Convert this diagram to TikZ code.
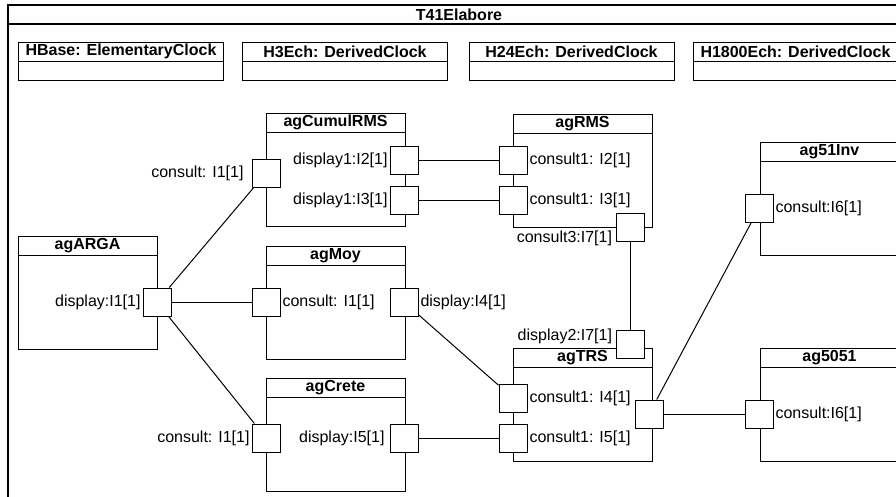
\documentclass[tikz,border=0pt]{standalone}
\usepackage{fontspec}
\setmainfont{Liberation Sans}

\begin{document}
\begin{tikzpicture}[x=1pt,y=-1pt,line width=1pt,font=\fontsize{16}{19}\selectfont,
    pbox/.style={draw,minimum width=139pt,minimum height=113pt,inner sep=0pt},
    hbox/.style={draw,fill=white,minimum width=139pt,minimum height=19pt,inner sep=0pt,anchor=north,font=\fontsize{16}{19}\selectfont\bfseries},
    cbox/.style={draw,minimum width=205pt,minimum height=19pt,inner sep=0pt,font=\fontsize{16}{19}\selectfont\bfseries},
    pnode/.style={draw,fill=white,minimum size=28pt,inner sep=0pt},
    lbl/.style={inner sep=1.5pt}]
    \useasboundingbox (0,0) rectangle (896,496);
    \clip (0,0) rectangle (896,496);
    \draw[line width=1.4pt] (8,5) rectangle (910,505);
    \draw[line width=1.4pt] (8,24) -- (910,24);
    \node[font=\fontsize{16}{19}\selectfont\bfseries] (title) at (459,14.5) {T41Elabore};

    \node[cbox] (hbaseH) at (121,51.5) {HBase: ElementaryClock};
    \node[cbox] (hbaseB) at (121,70.5) {};
    \node[cbox] (h3H) at (345,51.5) {H3Ech: DerivedClock};
    \node[cbox] (h3B) at (345,70.5) {};
    \node[cbox] (h24H) at (571.5,51.5) {H24Ech: DerivedClock};
    \node[cbox] (h24B) at (571.5,70.5) {};
    \node[cbox] (h1800H) at (795.5,51.5) {H1800Ech: DerivedClock};
    \node[cbox] (h1800B) at (795.5,70.5) {};

    \node[pbox] (argaB) at (87.5,292.5) {};
    \node[hbox] (argaH) at (argaB.north) {agARGA};
    \node[pbox] (cumulB) at (335.5,169.5) {};
    \node[hbox] (cumulH) at (cumulB.north) {agCumulRMS};
    \node[pbox] (moyB) at (335.5,302.5) {};
    \node[hbox] (moyH) at (moyB.north) {agMoy};
    \node[pbox] (creteB) at (335.5,434.5) {};
    \node[hbox] (creteH) at (creteB.north) {agCrete};
    \node[pbox] (rmsB) at (582.5,171) {};
    \node[hbox] (rmsH) at (rmsB.north) {agRMS};
    \node[pbox] (trsB) at (582.5,404.5) {};
    \node[hbox] (trsH) at (trsB.north) {agTRS};
    \node[pbox] (invB) at (829.5,199) {};
    \node[hbox] (invH) at (invB.north) {ag51Inv};
    \node[pbox] (mixB) at (829.5,404.5) {};
    \node[hbox] (mixH) at (mixB.north) {ag5051};

    \node[pnode] (argaP) at (157,302) {};
    \node[lbl,anchor=east] (argaL) at (argaP.west) {display:I1[1]};
    \node[pnode] (cumulP) at (266,173) {};
    \node[lbl,anchor=east] (cumulL) at ([xshift=-6pt]cumulP.west) {consult: I1[1]};
    \node[pnode] (cumulP2) at (404,160) {};
    \node[lbl,anchor=east] (cumulL2) at (cumulP2.west) {display1:I2[1]};
    \node[pnode] (cumulP3) at (404,200) {};
    \node[lbl,anchor=east] (cumulL3) at (cumulP3.west) {display1:I3[1]};
    \node[pnode] (moyP) at (266,302) {};
    \node[lbl,anchor=west] (moyL) at (moyP.east) {consult: I1[1]};
    \node[pnode] (moyP4) at (404,302) {};
    \node[lbl,anchor=west] (moyL4) at (moyP4.east) {display:I4[1]};
    \node[pnode] (creteP) at (266,438) {};
    \node[lbl,anchor=east] (creteL) at (creteP.west) {consult: I1[1]};
    \node[pnode] (creteP5) at (404,438) {};
    \node[lbl,anchor=east] (creteL5) at ([xshift=-3pt]creteP5.west) {display:I5[1]};
    \node[pnode] (rmsP2) at (513,160) {};
    \node[lbl,anchor=west] (rmsL2) at (rmsP2.east) {consult1: I2[1]};
    \node[pnode] (rmsP3) at (513,200) {};
    \node[lbl,anchor=west] (rmsL3) at (rmsP3.east) {consult1: I3[1]};
    \node[pnode] (rmsP7) at (630,227) {};
    \node[lbl,anchor=east] (rmsL7) at (614,238) {consult3:I7[1]};
    \node[pnode] (trsP7) at (630,344) {};
    \node[lbl,anchor=east] (trsL7) at (614,336) {display2:I7[1]};
    \node[pnode] (trsP4) at (513,398) {};
    \node[lbl,anchor=west] (trsL4) at (trsP4.east) {consult1: I4[1]};
    \node[pnode] (trsP5) at (513,438) {};
    \node[lbl,anchor=west] (trsL5) at (trsP5.east) {consult1: I5[1]};
    \node[pnode] (trsP6) at (649,414) {};
    \node[pnode] (invP) at (759,208) {};
    \node[lbl,anchor=west] (invL) at (invP.east) {consult:I6[1]};
    \node[pnode] (mixP) at (759,414) {};
    \node[lbl,anchor=west] (mixL) at (mixP.east) {consult:I6[1]};

    \draw (argaP) -- (cumulP);
    \draw (argaP) -- (moyP);
    \draw (argaP) -- (creteP);
    \draw (cumulP2) -- (rmsP2);
    \draw (cumulP3) -- (rmsP3);
    \draw (moyP4) -- (trsP4);
    \draw (creteP5) -- (trsP5);
    \draw (rmsP7) -- (trsP7);
    \draw (trsP6) -- (invP);
    \draw (trsP6) -- (mixP);
\end{tikzpicture}
\end{document}
